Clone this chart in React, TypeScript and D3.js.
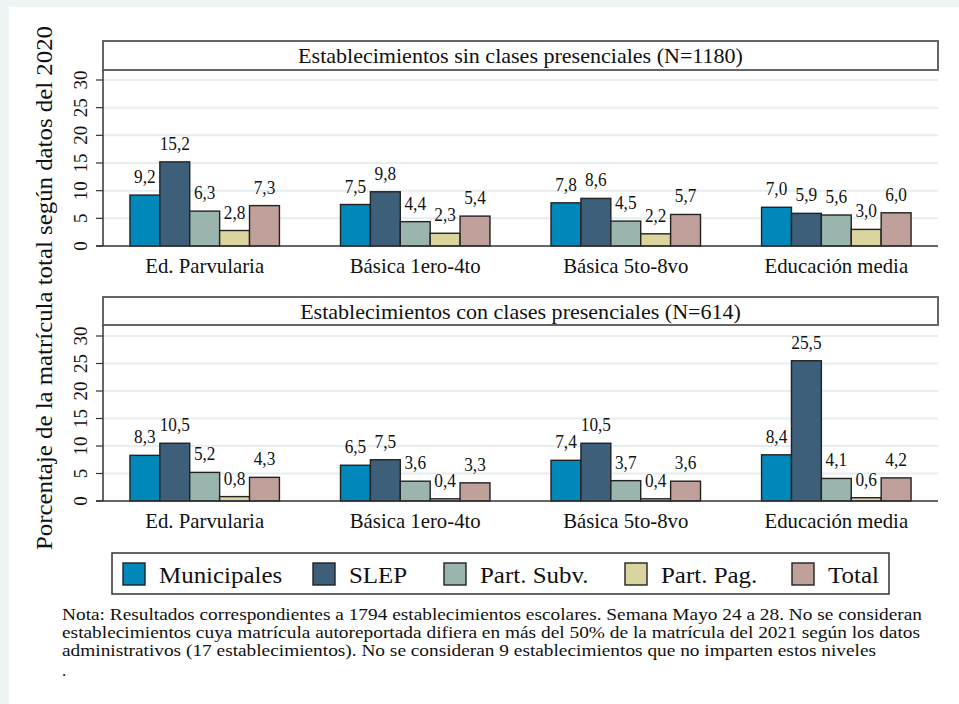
import React from "react";
import * as d3 from "d3";

const categories = ["Ed. Parvularia", "Básica 1ero-4to", "Básica 5to-8vo", "Educación media"];
const seriesNames = ["Municipales", "SLEP", "Part. Subv.", "Part. Pag.", "Total"];
const seriesColors = ["#0088bb", "#3e5f7a", "#9ab5ae", "#dad49f", "#bfa09a"];

// Panel 1: sin clases presenciales
const sinMunicipales = [9.2, 7.5, 7.8, 7.0];
const sinSLEP = [15.2, 9.8, 8.6, 5.9];
const sinSubv = [6.3, 4.4, 4.5, 5.6];
const sinPag = [2.8, 2.3, 2.2, 3.0];
const sinTotal = [7.3, 5.4, 5.7, 6.0];

// Panel 2: con clases presenciales
const conMunicipales = [8.3, 6.5, 7.4, 8.4];
const conSLEP = [10.5, 7.5, 10.5, 25.5];
const conSubv = [5.2, 3.6, 3.7, 4.1];
const conPag = [0.8, 0.4, 0.4, 0.6];
const conTotal = [4.3, 3.3, 3.6, 4.2];

const yTicks = [0, 5, 10, 15, 20, 25, 30];

const panelTitles = [
  "Establecimientos sin clases presenciales (N=1180)",
  "Establecimientos con clases presenciales (N=614)",
];
const yTitle = "Porcentaje de la matrícula total según datos del 2020";
const noteLines = [
  "Nota: Resultados correspondientes a 1794 establecimientos escolares. Semana Mayo 24 a 28. No se consideran",
  "establecimientos cuya matrícula autoreportada difiera en más del 50% de la matrícula del 2021 según los datos",
  "administrativos (17 establecimientos). No se consideran 9 establecimientos que no imparten estos niveles",
  ".",
];

const panels = [
  { title: panelTitles[0], data: [sinMunicipales, sinSLEP, sinSubv, sinPag, sinTotal], boxTop: 41, plotTop: 70, y0: 246, y30: 80 },
  { title: panelTitles[1], data: [conMunicipales, conSLEP, conSubv, conPag, conTotal], boxTop: 297, plotTop: 325, y0: 501, y30: 336 },
];

const FONT = "Liberation Serif, DejaVu Serif, serif";
const LEFT = 103;
const RIGHT = 938;

const fmt = (v: number) => d3.format(".1f")(v).replace(".", ",");

function HText({ x, y, size, sx = 1, anchor = "middle", children, length }: any) {
  return (
    <text
      transform={`translate(${x},${y}) scale(${sx},1)`}
      textAnchor={anchor}
      fill="#111"
      style={{ fontFamily: FONT, fontSize: size }}
      textLength={length}
      lengthAdjust={length ? "spacingAndGlyphs" : undefined}
    >
      {children}
    </text>
  );
}

function Panel({ p }: any) {
  const x0 = d3.scaleBand<string>().domain(categories).range([LEFT, RIGHT]).paddingInner(0.29).paddingOuter(0.128);
  const x1 = d3.scaleBand<string>().domain(seriesNames).range([0, x0.bandwidth()]);
  const y = d3.scaleLinear().domain([0, 30]).range([p.y0, p.y30]);
  return (
    <g>
      <rect x={LEFT} y={p.boxTop} width={RIGHT - LEFT} height={p.plotTop - p.boxTop} fill="#fff" stroke="#666" strokeWidth={2} />
      <HText x={(LEFT + RIGHT) / 2} y={p.boxTop + 22} size={21} sx={1.05}>{p.title}</HText>
      {yTicks.filter((t) => t > 0).map((t) => (
        <line key={t} x1={LEFT} x2={RIGHT} y1={y(t)} y2={y(t)} stroke="#e6eef0" strokeWidth={2} />
      ))}
      {categories.map((c, ci) => (
        <g key={c}>
          {seriesNames.map((s, si) => {
            const v = p.data[si][ci];
            const bx = (x0(c) as number) + (x1(s) as number);
            return (
              <g key={s}>
                <rect x={bx} y={y(v)} width={x1.bandwidth()} height={y(0) - y(v)} fill={seriesColors[si]} stroke="#222" strokeWidth={1.4} />
                <HText x={bx + x1.bandwidth() / 2} y={y(v) - 12} size={18} sx={0.96}>{fmt(v)}</HText>
              </g>
            );
          })}
          <HText x={(x0(c) as number) + x0.bandwidth() / 2} y={p.y0 + 27} size={21} sx={0.99}>{c}</HText>
        </g>
      ))}
      <line x1={LEFT} x2={LEFT} y1={p.plotTop} y2={p.y0} stroke="#333" strokeWidth={1.5} />
      <line x1={LEFT - 7} x2={RIGHT} y1={p.y0} y2={p.y0} stroke="#333" strokeWidth={1.5} />
      {yTicks.map((t) => (
        <g key={t}>
          <line x1={LEFT - 7} x2={LEFT} y1={y(t)} y2={y(t)} stroke="#333" strokeWidth={1.2} />
          <text transform={`translate(${LEFT - 16},${y(t)}) rotate(-90)`} textAnchor="middle" fill="#111" style={{ fontFamily: FONT, fontSize: 19 }}>
            {t}
          </text>
        </g>
      ))}
    </g>
  );
}

export default function App() {
  const legendX = [123, 313, 444, 625, 792];
  return (
    <svg width={959} height={704} style={{ position: "absolute", left: 0, top: 0, background: "#fff" }}>
      <rect x={0} y={0} width={959} height={704} fill="#eef3f3" />
      <rect x={9} y={7} width={950} height={697} fill="#ffffff" />
      {panels.map((p, i) => (
        <Panel key={i} p={p} />
      ))}
      <text transform={`translate(52,288) rotate(-90)`} textAnchor="middle" fill="#111" style={{ fontFamily: FONT, fontSize: 24 }} textLength={524} lengthAdjust="spacingAndGlyphs">
        {yTitle}
      </text>
      <rect x={112} y={553} width={777} height={41} fill="#fff" stroke="#333" strokeWidth={1.5} />
      {seriesNames.map((s, i) => (
        <g key={s}>
          <rect x={legendX[i]} y={563} width={22} height={22} fill={seriesColors[i]} stroke="#222" strokeWidth={1.4} />
          <HText x={legendX[i] + 36} y={583} size={24} sx={1.04} anchor="start">{s}</HText>
        </g>
      ))}
      {noteLines.map((l, i) => (
        <HText key={i} x={62} y={620 + i * 18 + (i === 3 ? 2 : 0)} size={17} anchor="start" length={i === 0 ? 860 : i === 1 ? 858 : i === 2 ? 814 : undefined}>
          {l}
        </HText>
      ))}
    </svg>
  );
}
